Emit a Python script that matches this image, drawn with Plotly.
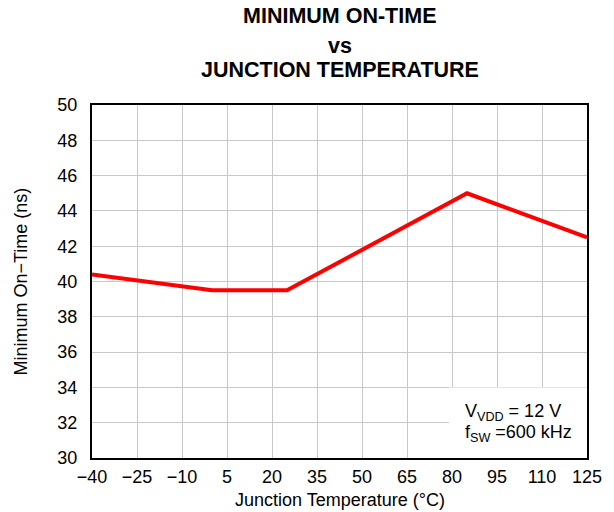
import plotly.graph_objects as go

temp_c = [-40, 0, 25, 85, 125]
min_on_time_ns = [40.4, 39.5, 39.5, 45.0, 42.5]

x_ticks = [-40, -25, -10, 5, 20, 35, 50, 65, 80, 95, 110, 125]
y_ticks = [30, 32, 34, 36, 38, 40, 42, 44, 46, 48, 50]

title_lines = ["MINIMUM ON-TIME", "vs", "JUNCTION TEMPERATURE"]
x_title = "Junction Temperature (°C)"
y_title = "Minimum On\u2212Time (ns)"
note_lines = ["V<sub>VDD</sub> = 12 V", "f<sub>SW</sub> =600 kHz"]

FONT = "Liberation Sans, Arial, sans-serif"
W, H = 614, 512
ML, MR, MT, MB = 92, 27, 105, 54
PW, PH = W - ML - MR, H - MT - MB

fig = go.Figure()
fig.add_trace(go.Scatter(
    x=temp_c, y=min_on_time_ns, mode="lines",
    line=dict(color="#ff0000", width=4),
    showlegend=False, hoverinfo="skip",
))

fig.update_layout(
    width=W, height=H,
    margin=dict(l=ML, r=MR, t=MT, b=MB),
    paper_bgcolor="white", plot_bgcolor="white",
    font=dict(family=FONT, color="black", size=18),
    showlegend=False,
)

fig.update_xaxes(
    range=[-40, 125], tickvals=x_ticks,
    ticktext=[("\u2212" + str(-v)) if v < 0 else str(v) for v in x_ticks],
    showgrid=True, gridcolor="#c8c8c8", gridwidth=1,
    showline=True, linecolor="black", linewidth=2, mirror=True,
    ticks="", zeroline=False, tickfont=dict(size=18), ticklabelstandoff=1,
)
fig.update_yaxes(
    range=[30, 50], tickvals=y_ticks,
    showgrid=True, gridcolor="#c8c8c8", gridwidth=1,
    showline=True, linecolor="black", linewidth=2, mirror=True,
    ticks="", zeroline=False, tickfont=dict(size=18), ticklabelstandoff=9,
)

# axis titles
fig.add_annotation(xref="paper", yref="paper", x=0.5, y=-(500 - (H - MB)) / PH,
                   xanchor="center", yanchor="middle", showarrow=False,
                   text=x_title, font=dict(size=18))
fig.add_annotation(xref="paper", yref="paper", x=-(ML - 20) / PW, y=0.5,
                   xanchor="center", yanchor="middle", showarrow=False,
                   textangle=-90, text=y_title, font=dict(size=18))

# white legend box in the lower-right corner (above grid, below traces)
fig.add_shape(type="rect", xref="x", yref="y", x0=79, x1=125, y0=30, y1=34,
              fillcolor="white", line=dict(width=0), layer="between")

# note text
fig.add_annotation(xref="paper", yref="paper", x=(463 - ML) / PW, y=0.128,
                   xanchor="left", yanchor="middle", showarrow=False,
                   text=note_lines[0], font=dict(size=18), align="left")
fig.add_annotation(xref="paper", yref="paper", x=(463 - ML) / PW, y=0.068,
                   xanchor="left", yanchor="middle", showarrow=False,
                   text=note_lines[1], font=dict(size=18), align="left")

# title lines
title_y = [16, 46, 70]
for txt, yy in zip(title_lines, title_y):
    fig.add_annotation(xref="paper", yref="paper", x=0.5,
                       y=1 + (MT - yy) / PH,
                       xanchor="center", yanchor="middle", showarrow=False,
                       text="<b>" + txt + "</b>", font=dict(size=21.5))

fig.write_html("out.html", config={"displayModeBar": False},
               post_script="document.body.style.margin='0';")
